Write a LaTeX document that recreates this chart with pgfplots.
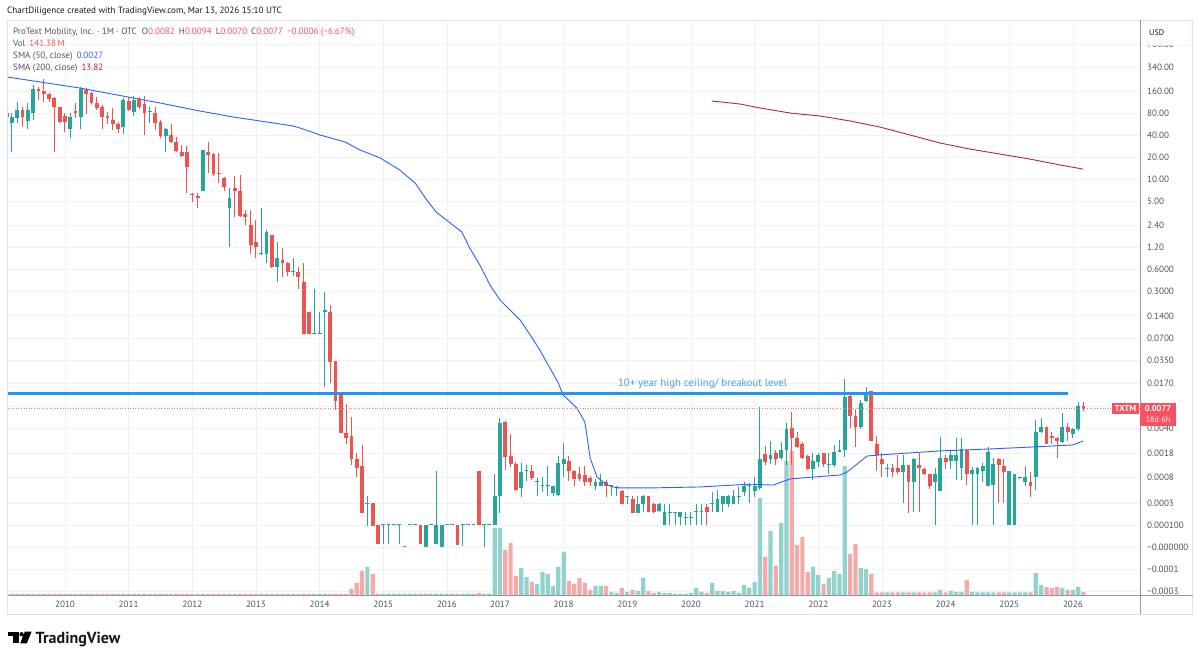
\documentclass[border=0pt]{standalone}
\usepackage{fontspec}
\setmainfont{PT Sans}
\usepackage{pgfplots}
\usepackage{pgfplotstable}
\pgfplotsset{compat=1.18}
\definecolor{upc}{HTML}{26A69A}
\definecolor{dnc}{HTML}{EF5350}
\definecolor{vup}{HTML}{92D2CC}
\definecolor{vdn}{HTML}{F7A9A7}
\definecolor{gridc}{HTML}{EEF1F6}
\definecolor{smaA}{HTML}{2962FF}
\definecolor{smaB}{HTML}{B22833}
\definecolor{brk}{HTML}{2196F3}
\definecolor{brkt}{HTML}{3FA0EE}
\definecolor{txt}{HTML}{131722}
\definecolor{lab}{HTML}{50535E}
\definecolor{valr}{HTML}{F7525F}
\definecolor{framec}{HTML}{E0E3EB}
\definecolor{sepc}{HTML}{9598A1}
\newcommand{\tvfont}{\fontsize{9.1}{10.5}\selectfont}
\newcommand{\T}[1]{ln(\thisrow{#1}+0.0001)}

% monthly candles: index (0 = Jan 2010), open, high, low, close, volume (M)
\pgfplotstableread{
i o h l c v
-11 81.3 81.3 71.7 71.7 47
-10 59.4 81.3 24.0 71.0 47
-9 68.1 112.4 58.2 88.4 47
-8 88.4 96.1 51.4 71.7 47
-7 63.2 108.9 48.3 88.4 47
-6 79.6 193 64.5 170.6 47
-5 168.9 183.5 120.9 160.3 47
-4 162 231 114.8 144.4 47
-3 144.4 152.2 114.8 124.8 47
-2 127.4 131.5 24.0 96.1 47
-1 96.1 96.1 58.2 60.0 47
0 73.2 79.6 44.9 60.0 47
1 48.8 81.3 36.4 71.7 47
2 86.5 108.9 68.1 79.6 47
3 71.7 183.5 48.8 170.6 47
4 165.5 174 77.9 144.4 47
5 152.2 157 106.7 111.2 47
6 111.2 131.5 88.4 93.1 47
7 98.1 103.4 48.8 71.7 47
8 73.2 83.9 57.0 69.5 47
9 64.5 93.1 47.3 56.4 47
10 57.0 61.3 42.6 49.3 47
11 52.5 127.4 41.3 120.9 47
12 117.2 134.3 85.6 88.4 47
13 83.9 137.1 73.2 120.9 47
14 123.5 134.3 90.2 96.1 47
15 105.5 137.1 40.4 79.6 47
16 84 98.1 58.2 86 47
17 81.3 96.1 47.3 58.2 47
18 61.3 64.5 36.4 39.6 47
19 39.6 49.8 24.0 48.3 47
20 40.4 57.0 31.1 32.1 47
21 32.8 38.4 24.0 24.7 47
22 24.0 29.5 20.1 21.1 47
23 24.0 28.6 6.5 14.7 47
24 6.4 6.5 5.0 6.1 47
25 6.05 6.5 4.15 5.6 47
26 7.1 25.3 7.1 25.3 47
27 24.0 32.8 12.2 21.6 47
28 22.3 23.2 11.2 11.8 47
29 12.2 22.7 8.9 11.9 47
30 10.6 10.9 6.9 8.0 47
31 4.06 7.6 1.20 5.67 47
32 7.6 11.2 3.13 7.1 47
33 7.1 11.4 3.13 3.24 47
34 3.41 3.86 2.41 3.13 47
35 2.41 3.86 0.98 1.29 47
36 1.43 2.83 0.85 1.20 47
37 0.97 4.06 0.94 0.99 47
38 0.97 2.06 0.73 1.91 47
39 1.76 1.76 0.63 0.64 47
40 0.64 1.43 0.41 0.87 47
41 0.80 1.19 0.48 0.73 47
42 0.73 0.76 0.49 0.56 47
43 0.56 0.87 0.49 0.57 47
44 0.56 0.65 0.32 0.48 47
45 0.400 0.727 0.0793 0.0793 47
46 0.158 0.158 0.0793 0.0793 47
47 0.0793 0.3215 0.0793 0.081 47
48 0.0793 0.158 0.0793 0.081 47
49 0.157 0.299 0.0151 0.168 47
50 0.158 0.197 0.0172 0.0332 47
51 0.0339 0.0339 0.00725 0.0096 47
52 0.0116 0.0125 0.00344 0.00344 47
53 0.00344 0.0089 0.00244 0.00293 47
54 0.00316 0.00575 0.00121 0.00147 282
55 0.00150 0.00179 0.00079 0.00108 564
56 0.00119 0.00236 0.000189 0.000189 1128
57 0.00029 0.000397 0.0000943 0.0003 1316
58 0.000295 0.000295 0.0000943 0.0000943 987
59 0.0001 0.0001 0.00001 0.00001 70
60 0.0001 0.0001 0.00001 0.0001 70
61 0.0001 0.0001 0.00001 0.0001 70
62 0.0001 0.0001 0.0001 0.0001 70
63 0.0001 0.0001 0.00001 0.0001 70
64 0.000001 0.000001 0.000001 0.000001 70
65 0.0001 0.0001 0.0001 0.0001 70
66 0.0001 0.0001 0.0001 0.0001 70
67 0.0001 0.0001 0.00001 0.00001 70
68 0.000001 0.0001 0.000001 0.0001 70
69 0.0001 0.0001 0.0001 0.0001 70
70 0.00001 0.001 0.00001 0.0001 70
71 0.000002 0.0001 0.000002 0.0001 70
72 0.0001 0.0001 0.0001 0.0001 70
73 0.0001 0.0001 0.0001 0.0001 70
74 0.0001 0.0001 0.000007 0.000007 70
75 0.0001 0.0001 0.000004 0.0001 70
76 0.0001 0.0001 0.0001 0.0001 70
77 0.0001 0.0001 0.0001 0.0001 70
78 0.001 0.001 0.0001 0.0001 94
79 0.0001 0.0001 0.000002 0.0001 70
80 0.0001 0.0001 0.0001 0.0001 70
81 0.0001 0.00088 0.0001 0.00039 3149
82 0.00039 0.00555 0.000195 0.00483 3149
83 0.00499 0.00515 0.00102 0.00157 2115
84 0.00164 0.00336 0.00112 0.00125 2444
85 0.00125 0.00135 0.00049 0.0005 893
86 0.00053 0.00131 0.000386 0.00096 1269
87 0.00099 0.00121 0.0007 0.0010 846
88 0.001 0.00121 0.00072 0.00078 611
89 0.00066 0.00078 0.00039 0.00068 517
90 0.00057 0.00081 0.00047 0.00058 1081
91 0.00057 0.00117 0.00039 0.00058 987
92 0.00044 0.00058 0.00039 0.00058 423
93 0.00041 0.00164 0.00039 0.00128 1316
94 0.00125 0.00254 0.00081 0.00146 2021
95 0.00138 0.00164 0.0007 0.001 658
96 0.001 0.00102 0.00058 0.00074 517
97 0.00089 0.00112 0.0007 0.00074 799
98 0.00086 0.00117 0.00058 0.00066 564
99 0.00078 0.00082 0.00058 0.00066 235
100 0.00058 0.00075 0.0005 0.00066 423
101 0.00058 0.00089 0.00058 0.00066 423
102 0.00066 0.00071 0.00038 0.00057 423
103 0.00057 0.0006 0.00039 0.00058 141
104 0.00054 0.00058 0.00039 0.00055 94
105 0.000487 0.0005 0.00029 0.000287 329
106 0.00038 0.00039 0.00029 0.00039 141
107 0.000347 0.00039 0.00019 0.000195 235
108 0.000195 0.00039 0.00019 0.000287 188
109 0.00029 0.00041 0.0002 0.00039 799
110 0.00039 0.00039 0.0002 0.0002 188
111 0.00029 0.0003 0.00019 0.0002 94
112 0.000214 0.0003 0.0002 0.00029 141
113 0.0001 0.00029 0.0001 0.0002 94
114 0.00019 0.00029 0.0001 0.0002 94
115 0.00019 0.0002 0.0001 0.0002 70
116 0.000154 0.0002 0.0001 0.0002 70
117 0.00015 0.0002 0.0001 0.00016 70
118 0.00015 0.0002 0.0001 0.00016 94
119 0.0002 0.00029 0.0001 0.00021 329
120 0.0002 0.00029 0.0001 0.00021 141
121 0.000248 0.00029 0.0001 0.0002 94
122 0.00029 0.00047 0.0002 0.0003 564
123 0.0002 0.0005 0.0002 0.000347 188
124 0.00029 0.00039 0.0002 0.00039 188
125 0.00029 0.00041 0.00025 0.00039 141
126 0.00029 0.0005 0.00029 0.00039 188
127 0.00038 0.00056 0.00029 0.00039 94
128 0.00047 0.00066 0.00039 0.00058 470
129 0.00057 0.00064 0.0003 0.00058 329
130 0.000488 0.00079 0.000386 0.00058 611
131 0.00053 0.0079 0.0005 0.00146 4559
132 0.00175 0.00228 0.00121 0.00135 1786
133 0.00146 0.00271 0.00125 0.00169 3008
134 0.00179 0.0020 0.00121 0.00146 1363
135 0.00156 0.00262 0.00143 0.0020 3384
136 0.0020 0.00474 0.00121 0.00391 6298
137 0.00404 0.00686 0.00121 0.00292 6768
138 0.00292 0.00363 0.00211 0.00223 2350
139 0.00243 0.00262 0.00146 0.00151 2726
140 0.00164 0.00169 0.00103 0.00105 1081
141 0.00105 0.00179 0.00072 0.0014 1316
142 0.00135 0.00179 0.00114 0.00169 940
143 0.00179 0.00179 0.00114 0.00125 517
144 0.0012 0.00179 0.0009 0.00121 799
145 0.00121 0.00235 0.00114 0.00189 1128
146 0.0019 0.00277 0.00189 0.00193 987
147 0.0020 0.0191 0.0016 0.01105 6063
148 0.0113 0.0120 0.00404 0.00598 1927
149 0.00598 0.00739 0.00223 0.00417 2397
150 0.00426 0.0101 0.00391 0.00913 1269
151 0.00973 0.01483 0.0094 0.01253 1222
152 0.0132 0.0132 0.00271 0.00271 987
153 0.00243 0.00315 0.001 0.00169 118
154 0.00146 0.00179 0.00079 0.00125 118
155 0.00106 0.00125 0.00079 0.00108 118
156 0.00108 0.00125 0.00079 0.00096 118
157 0.00108 0.00169 0.0009 0.00096 118
158 0.00096 0.00169 0.000295 0.00121 118
159 0.00121 0.00121 0.000194 0.00068 118
160 0.00068 0.00151 0.0002 0.00146 118
161 0.00121 0.00179 0.0002 0.00108 118
162 0.00105 0.00108 0.00086 0.0009 118
163 0.00089 0.00089 0.00051 0.00057 118
164 0.00068 0.00108 0.0001 0.00089 118
165 0.000488 0.00308 0.00049 0.00156 235
166 0.00151 0.00169 0.00105 0.00135 118
167 0.0014 0.0020 0.00105 0.00169 188
168 0.0014 0.00292 0.00072 0.00169 141
169 0.00108 0.00292 0.00072 0.00204 141
170 0.0020 0.0020 0.0006 0.00089 705
171 0.00089 0.00114 0.0001 0.00102 141
172 0.0009 0.00114 0.0001 0.00108 118
173 0.001 0.00128 0.00068 0.00117 118
174 0.00057 0.00218 0.00057 0.00189 118
175 0.0006 0.00151 0.0001 0.00125 118
176 0.00146 0.00156 0.0003 0.00121 118
177 0.00117 0.00146 0.0003 0.00096 118
178 0.0001 0.001 0.0001 0.001 118
179 0.0001 0.00089 0.0001 0.00089 118
180 0.00078 0.00081 0.00076 0.00079 118
181 0.00068 0.00117 0.00057 0.00079 118
182 0.00068 0.00096 0.000386 0.00057 118
183 0.00079 0.00525 0.0005 0.00363 1034
184 0.00363 0.00555 0.0035 0.00417 470
185 0.00426 0.00426 0.00243 0.00243 376
186 0.00315 0.00363 0.00247 0.0030 329
187 0.00292 0.00308 0.00156 0.00271 376
188 0.00262 0.00665 0.00255 0.00426 329
189 0.00426 0.00483 0.00271 0.00363 235
190 0.00336 0.00404 0.0030 0.00391 235
191 0.00391 0.00943 0.00374 0.00822 376
192 0.0082 0.0094 0.0070 0.0077 141
}\candles

\pgfplotstableread{
i p
-10.9 248.6
2.8 176
11.9 132.8
17.9 110.2
25.4 85.7
31.7 71.0
38.1 60.7
43.0 53.6
44.3 50.3
48.1 40.4
52.8 32.5
55.6 25.3
59.4 19.7
63.1 13.5
66.0 9.0
68.2 5.28
70.0 3.6
72.6 2.57
74.8 1.94
76.3 1.17
78.2 0.689
80.1 0.369
82.0 0.230
83.9 0.168
85.8 0.123
87.7 0.0769
89.5 0.0481
91.4 0.0273
92.9 0.0176
93.9 0.01164
96.5 0.00772
98.0 0.00494
99.0 0.00153
100.3 0.00080
102.2 0.00060
104.1 0.00054
110.3 0.00054
119.7 0.00056
129.1 0.00062
133.5 0.0006
136.7 0.00075
146.1 0.00086
147.4 0.00095
151.2 0.00164
153.6 0.0017
164.9 0.00194
174.4 0.00207
182.5 0.00221
190.0 0.00236
191.9 0.00268
}\smaA

\pgfplotstableread{
i p
122.0 117.2
127.2 106.7
131.0 94.2
136.7 80.4
142.3 73.3
148.0 62.7
153.6 51.9
159.3 40.4
164.9 31.5
170.6 26.0
176.2 22.3
181.9 19.0
187.6 15.8
191.9 13.9
}\smaB

\pgfplotsset{
  base/.style={at={(8pt,63pt)}, anchor=south west, scale only axis,
    width=1132pt, height=575pt, xmin=-10.74, xmax=202.64, clip=true},
  tscale/.style={ymin=-10.707, ymax=7.301},
  up/.style={restrict expr to domain={\thisrow{c}-\thisrow{o}}{0:1000000}},
  dn/.style={restrict expr to domain={\thisrow{c}-\thisrow{o}}{-1000000:-0.00000001}},
}

\begin{document}
\begin{tikzpicture}
\path[use as bounding box, fill=white] (0pt,0pt) rectangle (1200pt,658pt);

% grid and tick labels
\begin{axis}[base, tscale,
  axis line style={draw=none}, tick style={draw=none}, major tick length=0pt,
  grid=major, major grid style={draw=gridc, line width=0.8pt},
  xtick={0,12,24,36,48,60,72,82,94,106,118,130,142,154,166,178,190},
  xticklabels={2010,2011,2012,2013,2014,2015,2016,2017,2018,2019,2020,2021,2022,2023,2024,2025,2026},
  ytick={6.5511,5.8289,5.0752,4.3820,3.6889,2.9957,2.3026,1.6094,0.8755,0.1824,-0.5107,-1.2036,-1.9654,-2.6579,-3.3496,-4.0686,-4.8159,-5.4968,-6.2659,-7.0131,-7.8240,-8.5172,-9.2103,-9.9035,-10.5966},
  yticklabels={700.00,340.00,160.00,80.00,40.00,20.00,10.00,5.00,2.40,1.20,0.6000,0.3000,0.1400,0.0700,0.0350,0.0170,{},0.0040,0.0018,0.0008,0.0003,0.000100,−0.000000,−0.0001,−0.0003},
  yticklabel pos=right,
  ticklabel style={font=\tvfont, text=lab},
  xticklabel style={anchor=base, yshift=-12.7pt, inner sep=0pt},
  yticklabel style={anchor=west, xshift=7pt, inner sep=0pt},
]
\addplot[draw=none, forget plot] coordinates {(0,0)};
\end{axis}

% volume
\begin{axis}[base, ymin=0, ymax=27025, hide axis]
\addplot[ybar, bar width=4.2pt, bar shift=0pt, fill=vup, draw=none, up] table[x=i, y=v] {\candles};
\addplot[ybar, bar width=4.2pt, bar shift=0pt, fill=vdn, draw=none, dn] table[x=i, y=v] {\candles};
\end{axis}

% candles and lines
\begin{axis}[base, tscale, hide axis]
\addplot[draw=none, mark=none, up, error bars/.cd, y dir=plus, y explicit, error mark=none,
  error bar style={draw=upc, solid, line width=1pt}]
  table[x=i, y expr={\T{l}}, y error plus expr={\T{h}-\T{l}}] {\candles};
\addplot[draw=none, mark=none, dn, error bars/.cd, y dir=plus, y explicit, error mark=none,
  error bar style={draw=dnc, solid, line width=1pt}]
  table[x=i, y expr={\T{l}}, y error plus expr={\T{h}-\T{l}}] {\candles};
\addplot[draw=none, mark=none, up, error bars/.cd, y dir=plus, y explicit, error mark=none,
  error bar style={draw=upc, solid, line width=3.8pt}]
  table[x=i, y expr={min(\T{o},\T{c})}, y error plus expr={max(abs(\T{o}-\T{c}),0.035)}] {\candles};
\addplot[draw=none, mark=none, dn, error bars/.cd, y dir=plus, y explicit, error mark=none,
  error bar style={draw=dnc, solid, line width=3.8pt}]
  table[x=i, y expr={min(\T{o},\T{c})}, y error plus expr={max(abs(\T{o}-\T{c}),0.035)}] {\candles};
\addplot[smaA, line width=0.9pt, no marks] table[x=i, y expr={\T{p}}] {\smaA};
\addplot[smaB, line width=0.9pt, no marks] table[x=i, y expr={\T{p}}] {\smaB};
\addplot[brk, line width=3pt, no marks] table[x=i, y expr={\T{p}}, row sep=\\] {i p\\ -10.74 0.0124\\ 189.1 0.0124\\};
\addplot[valr!80, line width=0.8pt, dash pattern=on 1pt off 1.6pt, no marks] table[x=i, y expr={\T{p}}, row sep=\\] {i p\\ -10.74 0.0077\\ 202.64 0.0077\\};
\end{axis}

\begin{scope}[x=1pt, y=1pt]
% frame and separators
\draw[framec, line width=0.8pt] (7.5,{658-20.5}) rectangle (1192.5,{658-614});
\draw[sepc, line width=0.9pt] (1140,{658-20.5}) -- (1140,{658-614});
\draw[sepc, line width=0.9pt] (7.5,{658-595}) -- (1192.5,{658-595});

% breakout label
\node[text=brkt, font=\fontsize{10.8}{12}\selectfont, inner sep=0] at (702.5,{658-384}) {10+ year high ceiling/ breakout level};

% header and legend
\node[anchor=base west, inner sep=0, font=\tvfont, text=txt] at (7,{658-13.3}) {ChartDiligence created with TradingView.com, Mar 13, 2026 15:10 UTC};
\node[anchor=base west, inner sep=0, font=\tvfont, text=lab] at (13,{658-34.3}) {ProText Mobility, Inc. · 1M · OTC\hspace{5pt}O\textcolor{valr}{0.0082}\hspace{4pt}H\textcolor{valr}{0.0094}\hspace{4pt}L\textcolor{valr}{0.0070}\hspace{4pt}C\textcolor{valr}{0.0077}\hspace{4pt}\textcolor{valr}{−0.0006 (−6.67\%)}};
\node[anchor=base west, inner sep=0, font=\tvfont, text=lab] at (13,{658-46.3}) {Vol\hspace{4pt}\textcolor{valr}{141.38\,M}};
\node[anchor=base west, inner sep=0, font=\tvfont, text=lab] at (13,{658-58.6}) {SMA (50, close)\hspace{4pt}\textcolor{smaA}{0.0027}};
\node[anchor=base west, inner sep=0, font=\tvfont, text=lab] at (13,{658-71.0}) {SMA (200, close)\hspace{4pt}\textcolor{smaB}{13.82}};

% USD box (covers most of the 700.00 label, as in the original)
\filldraw[fill=white, draw=framec, rounded corners=2pt] (1143,{658-22}) rectangle (1191,{658-45.5});
\node[anchor=west, inner sep=0, font=\fontsize{8.2}{10}\selectfont, text=txt] at (1149,{658-32.3}) {USD};

% last price label
\fill[valr] (1111.7,{658-402.7}) rectangle (1139.3,{658-414.3});
\node[text=white, font=\fontsize{8.6}{10}\selectfont\bfseries, inner sep=0] at (1125.5,{658-408.5}) {TXTM};
\fill[valr] (1139.8,{658-402.7}) rectangle (1176,{658-425.7});
\node[text=white, font=\fontsize{8.6}{10}\selectfont\bfseries, inner sep=0] at (1158,{658-408.5}) {0.0077};
\node[text=white!90!valr, font=\fontsize{8.2}{10}\selectfont, inner sep=0] at (1158,{658-419.8}) {18d 6h};

% TradingView logo
\fill[black] (8,{658-631.7}) rectangle (18.5,{658-635.6});
\fill[black] (13.2,{658-631.7}) rectangle (18.5,{658-643.3});
\fill[black] (21.6,{658-634.3}) circle (2.2);
\fill[black] (24.8,{658-631.7}) -- (31.6,{658-631.7}) -- (26.9,{658-643.3}) -- (20.2,{658-643.3}) -- cycle;
\node[anchor=base west, inner sep=0, font=\fontsize{16}{18}\selectfont\bfseries, text=txt] at (35.5,{658-643.3}) {TradingView};
\end{scope}
\end{tikzpicture}
\end{document}
